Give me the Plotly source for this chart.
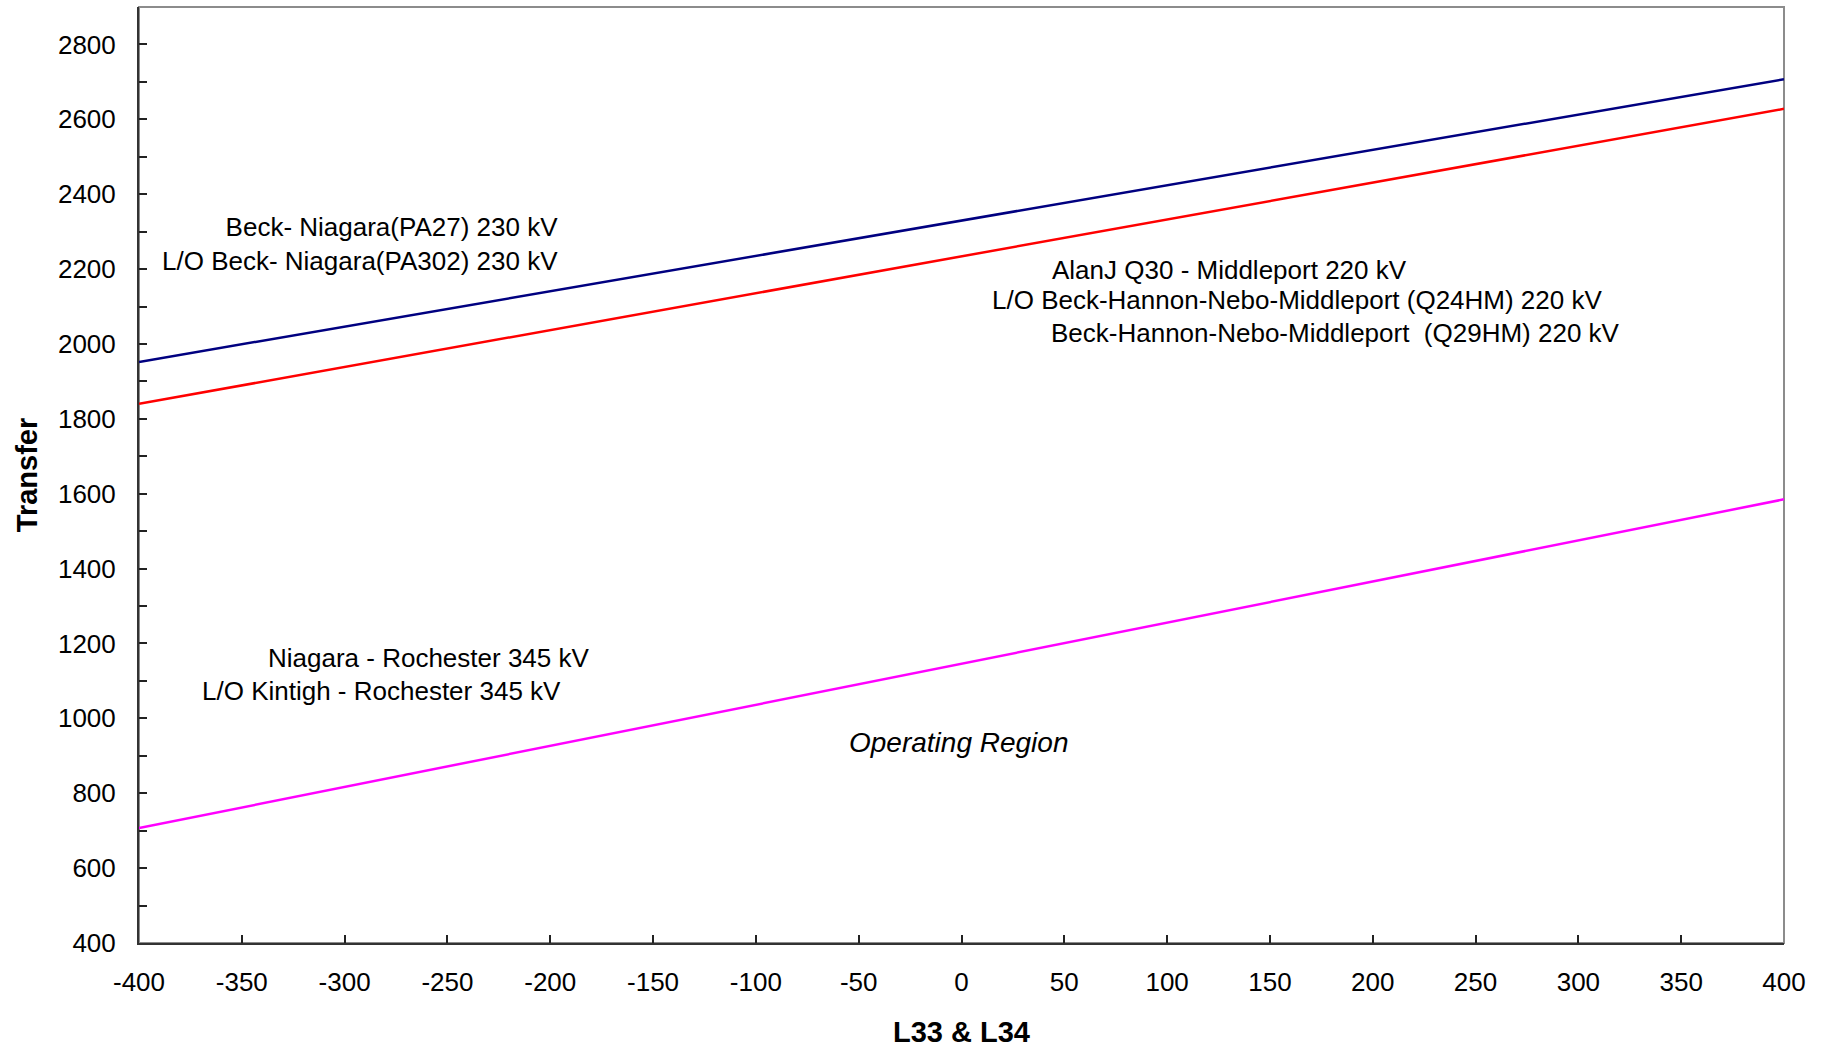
import plotly.graph_objects as go

# ---- data ----
x_vals = [-400, 0, 400]
beck_niagara = [1952, 2330, 2707]
alanj_middleport = [1840, 2234, 2628]
niagara_rochester = [707, 1146, 1585]

x_ticks = list(range(-400, 401, 50))
x_ticktext = [str(v) for v in x_ticks]
y_ticks = list(range(400, 2801, 200))
y_ticktext = [str(v) for v in y_ticks]

FONT = "Arial, Liberation Sans, sans-serif"

fig = go.Figure()
fig.add_trace(go.Scatter(x=x_vals, y=beck_niagara, mode="lines",
                         line=dict(color="#000080", width=2.5), showlegend=False))
fig.add_trace(go.Scatter(x=x_vals, y=alanj_middleport, mode="lines",
                         line=dict(color="#FF0000", width=2.5), showlegend=False))
fig.add_trace(go.Scatter(x=x_vals, y=niagara_rochester, mode="lines",
                         line=dict(color="#FF00FF", width=2.5), showlegend=False))

tf = dict(family=FONT, size=26, color="black")

# Label annotations
fig.add_annotation(x=-195.1, y=2267, xref="x", yref="y", xanchor="right", yanchor="middle",
                   align="right", showarrow=False, font=tf,
                   text="Beck- Niagara(PA27) 230 kV<br>L/O Beck- Niagara(PA302) 230 kV")
fig.add_annotation(x=42.8, y=2197, xanchor="left", yanchor="middle", showarrow=False, font=tf,
                   text="AlanJ Q30 - Middleport 220 kV")
fig.add_annotation(x=13.7, y=2117, xanchor="left", yanchor="middle", showarrow=False, font=tf,
                   text="L/O Beck-Hannon-Nebo-Middleport (Q24HM) 220 kV")
fig.add_annotation(x=42.7, y=2029, xanchor="left", yanchor="middle", showarrow=False, font=tf,
                   text="Beck-Hannon-Nebo-Middleport &nbsp;(Q29HM) 220 kV")
fig.add_annotation(x=-338.4, y=1160, xanchor="left", yanchor="middle", showarrow=False, font=tf,
                   text="Niagara - Rochester 345 kV")
fig.add_annotation(x=-370.5, y=1072, xanchor="left", yanchor="middle", showarrow=False, font=tf,
                   text="L/O Kintigh - Rochester 345 kV")
fig.add_annotation(x=-55.9, y=935, xanchor="left", yanchor="middle", showarrow=False,
                   font=dict(family=FONT, size=28, color="black"),
                   text="<i>Operating Region</i>")

# gray frame (top/right)
fig.add_shape(type="rect", xref="paper", yref="paper", x0=0, y0=0, x1=1, y1=1,
              line=dict(color="#8c8c8c", width=2), layer="below")

fig.update_xaxes(range=[-400, 400], tickvals=x_ticks, ticktext=x_ticktext,
                 ticks="inside", ticklen=8, ticklabelstandoff=15,
                 tickwidth=2, tickcolor="#222", showline=True, linecolor="#333", linewidth=2,
                 showgrid=False, zeroline=False, tickfont=tf, automargin=False,
                 title=dict(text="<b>L33 &amp; L34</b>", font=dict(family=FONT, size=29, color="black"),
                            standoff=26))
fig.update_yaxes(range=[400, 2900], tickvals=y_ticks, ticktext=y_ticktext,
                 ticks="inside", ticklen=8, ticklabelstandoff=16,
                 tickwidth=2, tickcolor="#222", showline=True, linecolor="#333", linewidth=2,
                 showgrid=False, zeroline=False, tickfont=tf, automargin=False,
                 minor=dict(dtick=100, tick0=400, ticks="inside", ticklen=8, tickwidth=2, tickcolor="#222"),
                 title=dict(text="<b>Transfer</b>", font=dict(family=FONT, size=29, color="black"),
                            standoff=12))

fig.update_layout(width=1828, height=1048, plot_bgcolor="white", paper_bgcolor="white",
                  margin=dict(l=139, r=44, t=7, b=105), font=dict(family=FONT))

fig.write_html("out.html", config={"displayModeBar": False},
               post_script="document.body.style.margin='0px';")
